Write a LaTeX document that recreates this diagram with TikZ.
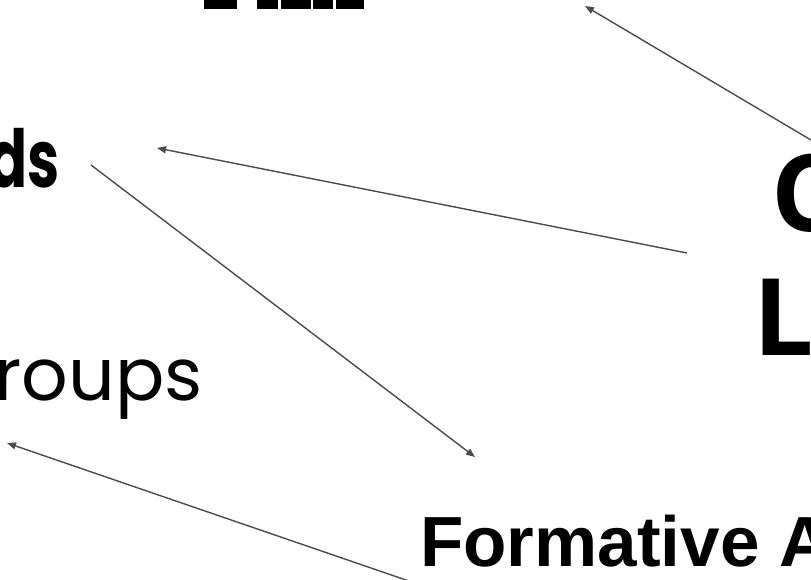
\documentclass[tikz,border=0pt]{standalone}
\usepackage{fontspec}
\setmainfont{Liberation Sans}
\newfontfamily\popf{Poppins}
\newfontfamily\opensf{Open Sans}
\usetikzlibrary{arrows.meta}
\begin{document}
\begin{tikzpicture}[x=1pt,y=-1pt,
  conn/.style={draw=black!70, line width=1.4pt, -{Triangle[length=9pt,width=7pt]}},
  lbl/.style={inner sep=0pt, text=black},
  blk/.style={fill=black}]
\useasboundingbox (0,0) rectangle (811,580);
\clip (0,0) rectangle (811,580);
\fill[white] (0,0) rectangle (811,580);
% bottoms of a clipped heading at the top
\fill[blk] (204,-20) rectangle (237,9.5);
\fill[blk] (257,-20) rectangle (278,9.5);
\fill[blk] (281,-20) rectangle (311,9.5);
\fill[blk] (313,-20) rectangle (333,9.5);
\fill[blk] (336,-20) rectangle (364,9.5);
% labels
\node[lbl, anchor=base east, font=\popf\bfseries\fontsize{80}{80}\selectfont] (ds) at (60,188) {\scalebox{0.72}[1]{ds}};
\node[lbl, anchor=base east, font=\popf\fontsize{73}{73}\selectfont] (grp) at (203,400) {roups};
\node[lbl, anchor=base west, font=\opensf\bfseries\fontsize{107}{107}\selectfont] (c) at (771,232) {C};
\node[lbl, anchor=base west, font=\opensf\bfseries\fontsize{107}{107}\selectfont] (l) at (753,355) {L};
\node[lbl, anchor=base west, font=\bfseries\fontsize{71}{71}\selectfont] (fa) at (420,566) {Formative A};
% connector ends
\coordinate (a1t) at (830,151.3);
\coordinate (a1h) at (585,6);
\coordinate (a2t) at (687,253);
\coordinate (a2h) at (157,148);
\coordinate (a3t) at (91,165);
\coordinate (a3h) at (475,457);
\coordinate (a4t) at (410,581.4);
\coordinate (a4h) at (7,443);
\draw[conn] (a1t) -- (a1h);
\draw[conn] (a2t) -- (a2h);
\draw[conn] (a3t) -- (a3h);
\draw[conn] (a4t) -- (a4h);
\end{tikzpicture}
\end{document}
